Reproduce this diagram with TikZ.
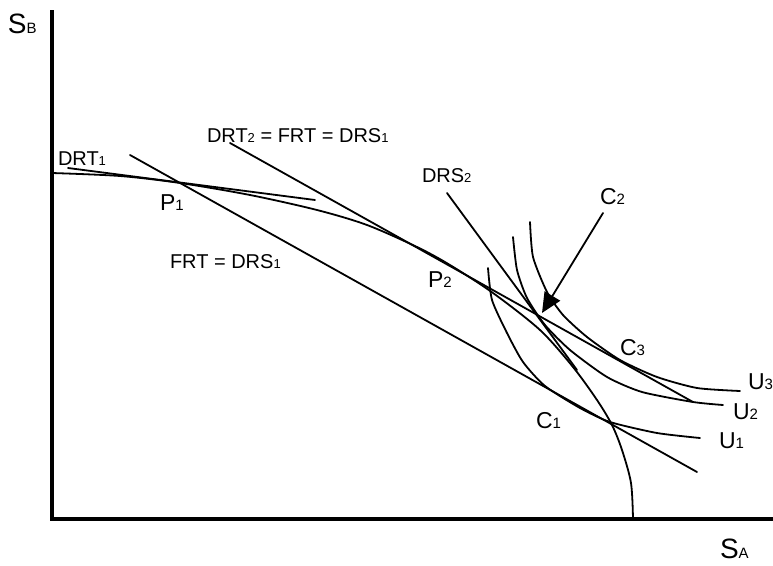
\documentclass[tikz,border=0pt]{standalone}
\usepackage{fontspec}
\setmainfont{Liberation Sans}
\usetikzlibrary{arrows.meta}
\newcommand{\ssz}[2]{{\fontsize{#1}{#1}\selectfont #2}}
\tikzset{
  curve/.style={line width=1.8pt, line join=round, line cap=round},
  axis/.style={line width=4pt},
  lab/.style={anchor=base west, inner sep=0pt, outer sep=0pt},
  bigl/.style={lab, font=\fontsize{23}{23}\selectfont},
  smalll/.style={lab, font=\fontsize{20}{20}\selectfont},
  axl/.style={lab, font=\fontsize{28}{28}\selectfont},
}
\begin{document}
\begin{tikzpicture}[x=1pt,y=-1pt]
\useasboundingbox (0,0) rectangle (773,565);
% axes
\coordinate (ytop) at (52,10);
\coordinate (orig) at (52,519);
\coordinate (xend) at (773,519);
\draw[axis] (ytop) -- (orig) -- (xend);
% axis labels
\node[axl] (sb) at (8,33) {S\ssz{15}{B}};
\node[axl] (sa) at (720,558) {S\ssz{15}{A}};
% transformation curve
\draw[curve] plot[smooth, tension=0.5] coordinates {(52,173) (120,176) (180,183) (250,195) (317,210) (367,225) (417,247) (450,265) (493,293) (540,330) (573,367) (597,400) (612,425) (622,450) (631,483) (633,519)};
% straight lines
\coordinate (drt1a) at (68,168); \coordinate (drt1b) at (315,200);
\draw[curve] (drt1a) -- (drt1b);
\coordinate (frta) at (130,155); \coordinate (frtb) at (697,472);
\draw[curve] (frta) -- (frtb);
\coordinate (drt2a) at (230,143); \coordinate (drt2b) at (693,402);
\draw[curve] (drt2a) -- (drt2b);
\coordinate (drs2a) at (447,193); \coordinate (drs2b) at (577,370);
\draw[curve] (drs2a) -- (drs2b);
% indifference curves
\draw[curve] plot[smooth, tension=0.4] coordinates {(488,268) (492,300) (507,333) (523,362) (545,386) (580,408) (610,422) (657,433) (700,438)};
\draw[curve] plot[smooth, tension=0.4] coordinates {(513,237) (517,270) (527,298) (545,325) (570,350) (607,377) (642,392) (693,402) (723,405)};
\draw[curve] plot[smooth, tension=0.4] coordinates {(530,222) (533,257) (547,292) (563,315) (587,337) (620,360) (657,377) (697,388) (740,391)};
% labels
\node[smalll] (ldrt1) at (58,165) {DRT\ssz{13}{1}};
\node[smalll] (ldrt2) at (207,142) {DRT\ssz{13}{2} = FRT = DRS\ssz{13}{1}};
\node[smalll] (lfrt) at (170,268) {FRT = DRS\ssz{13}{1}};
\node[smalll] (ldrs2) at (422,182) {DRS\ssz{13}{2}};
\node[bigl] (p1) at (160,210) {P\ssz{15}{1}};
\node[bigl] (p2) at (428,287) {P\ssz{15}{2}};
\node[bigl] (c1) at (536,428) {C\ssz{15}{1}};
\node[bigl] (c2) at (600,204) {C\ssz{15}{2}};
\node[bigl] (c3) at (620,355) {C\ssz{15}{3}};
\node[bigl] (u1) at (719,448) {U\ssz{15}{1}};
\node[bigl] (u2) at (733,419) {U\ssz{15}{2}};
\node[bigl] (u3) at (748,389) {U\ssz{15}{3}};
% arrow
\coordinate (arrs) at (603,213);
\coordinate (arrt) at (542,313);
\draw[curve, -{Triangle[length=20pt,width=18pt]}] (arrs) -- (arrt);
\end{tikzpicture}
\end{document}
